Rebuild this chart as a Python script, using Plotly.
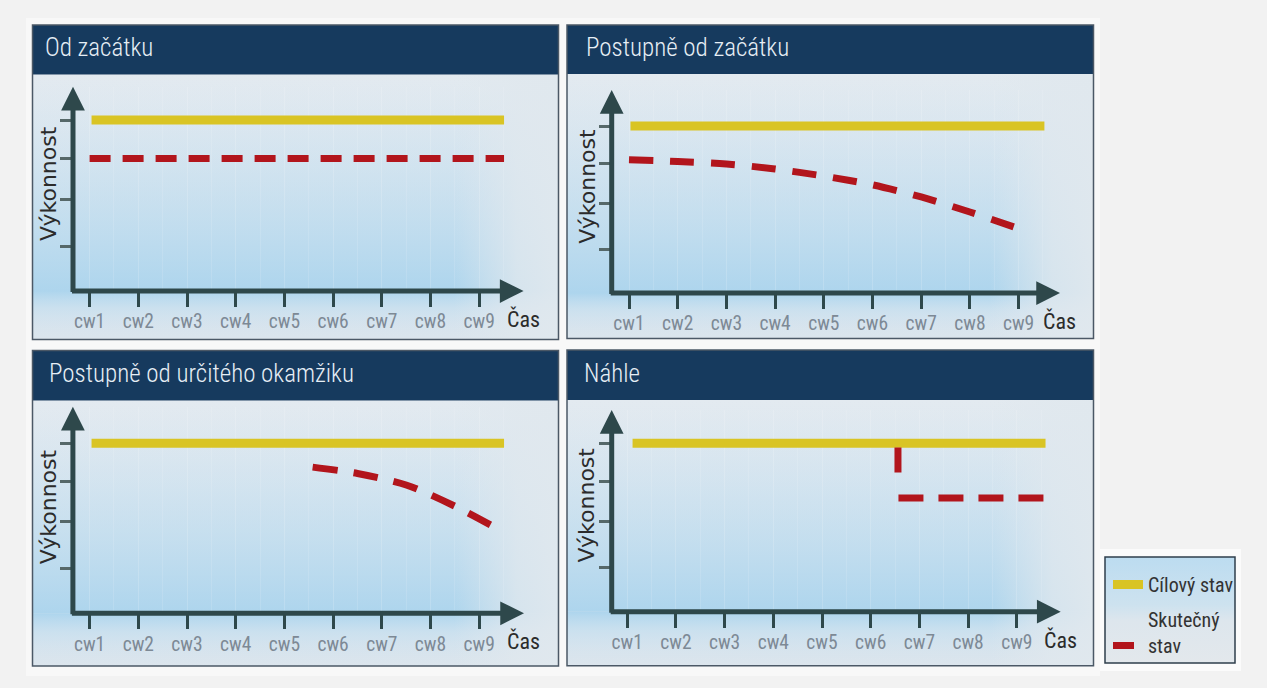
import plotly.graph_objects as go

# ---------------- data ----------------
categories = ["cw1", "cw2", "cw3", "cw4", "cw5", "cw6", "cw7", "cw8", "cw9"]
category_pos = [1, 2, 3, 4, 5, 6, 7, 8, 9]
y_tick_vals = [1.05, 2.15, 3.1, 4.0]

panel_titles = ["Od začátku", "Postupně od začátku",
                "Postupně od určitého okamžiku", "Náhle"]
legend_names = ["Cílový stav", "Skutečný<br>stav"]
y_title = "Výkonnost"
x_title = "Čas"

# Od začátku
p1_target_x = [1.04, 9.51]
p1_target_y = [4.0, 4.0]
p1_actual_x = [1.0, 9.51]
p1_actual_y = [3.1, 3.1]
# Postupně od začátku
p2_target_x = [1.03, 9.53]
p2_target_y = [4.0, 4.0]
p2_actual_x = [1, 2, 3, 4, 5, 6, 7, 8, 9.13]
p2_actual_y = [3.19, 3.15, 3.09, 2.97, 2.80, 2.59, 2.30, 1.94, 1.49]
# Postupně od určitého okamžiku
p3_target_x = [1.04, 9.51]
p3_target_y = [4.0, 4.0]
p3_actual_x = [5.58, 6.5, 7.5, 8.5, 9.39]
p3_actual_y = [3.44, 3.29, 3.02, 2.52, 1.98]
# Náhle
p4_target_x = [1.11, 9.59]
p4_target_y = [4.0, 4.0]
p4_actual_x = [6.56, 6.56, 9.59]
p4_actual_y = [3.9, 2.7, 2.7]

# ---------------- layout geometry / styles ----------------
W, H = 1267, 688
CW = 48.7  # px per category step
NARROW = "Liberation Sans Narrow, Arial Narrow, Roboto Condensed, Liberation Sans, sans-serif"
WIDE = "DejaVu Sans, Verdana, sans-serif"
AXC = "#2e484b"
YELLOW = "#d9c424"
RED = "#b2151c"
NAVY = "#163a5e"

panels = [
    dict(L=32.5, R=558.5, T=25, HB=74.5, B=339.5, ax=73.0, ay=291.0, cw1=89.6,
         tipx=523.6, tipy=86.7, unit=42.75, tx=43,
         tx_=p1_target_x, ty_=p1_target_y, axx=p1_actual_x, axy=p1_actual_y,
         dash="21px,12px", shape="linear"),
    dict(L=567.0, R=1093.5, T=25, HB=74.0, B=338.5, ax=611.7, ay=293.0, cw1=629.0,
         tipx=1060.0, tipy=90.0, unit=41.75, tx=584,
         tx_=p2_target_x, ty_=p2_target_y, axx=p2_actual_x, axy=p2_actual_y,
         dash="24px,17px", shape="spline"),
    dict(L=32.5, R=558.5, T=350.5, HB=400.5, B=666.0, ax=72.9, ay=613.3, cw1=89.6,
         tipx=524.0, tipy=406.7, unit=42.5, tx=47,
         tx_=p3_target_x, ty_=p3_target_y, axx=p3_actual_x, axy=p3_actual_y,
         dash="25px,16px", shape="spline"),
    dict(L=567.0, R=1093.5, T=350.0, HB=400.0, B=665.7, ax=611.7, ay=611.7, cw1=627.2,
         tipx=1060.7, tipy=410.0, unit=42.1, tx=582,
         tx_=p4_target_x, ty_=p4_target_y, axx=p4_actual_x, axy=p4_actual_y,
         dash="25px,26px,25px,15px,25px,15px,25px,15px,25px,15px", shape="linear"),
]

fig = go.Figure()


def grad_rect(x0, y0, x1, y1, cs, orient="vertical"):
    if orient == "vertical":
        start, stop = y0, y1
    else:
        start, stop = x0, x1
    fig.add_trace(go.Scatter(
        x=[x0, x1, x1, x0, x0], y=[y0, y0, y1, y1, y0], mode="none", fill="toself",
        fillgradient=dict(type=orient, colorscale=cs, start=start, stop=stop),
        xaxis="x", yaxis="y", hoverinfo="skip", showlegend=False))


# page card
grad_rect(26, 18, 1100, 676, [[0, "#f8f8f8"], [1, "#f8f8f8"]])

for p in panels:
    L, R, HB, B = p["L"], p["R"], p["HB"], p["B"]
    # base body
    grad_rect(L, HB, R, B, [[0, "#e3eaf0"], [1, "#dbe5ed"]])
    # blue glow over the plot region
    grad_rect(L, HB, R, p["ay"],
              [[0, "rgba(200,225,242,0.0)"], [0.45, "rgba(185,219,240,0.42)"],
               [1, "rgba(165,210,237,0.85)"]])
    # below x axis
    grad_rect(L, p["ay"], R, B,
              [[0, "rgba(165,210,237,0.85)"], [0.35, "rgba(185,219,240,0.5)"],
               [1, "rgba(220,229,237,0.2)"]])
    # right fade
    grad_rect(p["tipx"] - 70, HB, R, B,
              [[0, "rgba(224,232,238,0.0)"], [0.6, "rgba(224,232,238,0.8)"],
               [1, "rgba(224,232,238,0.95)"]], orient="horizontal")
    # header
    grad_rect(L, p["T"], R, HB, [[0, NAVY], [1, NAVY]])

# legend box
grad_rect(1100, 549, 1241, 671, [[0, "#fbfbfb"], [1, "#fbfbfb"]])
grad_rect(1105, 557, 1235, 663,
          [[0, "#bcdcf0"], [0.45, "#cde2ef"], [0.6, "#dde6ed"], [1, "#e3e8ec"]])

shapes = []
for p in panels:
    shapes.append(dict(type="rect", xref="paper", yref="paper", layer="above",
                       x0=p["L"] / W, x1=p["R"] / W, y0=1 - p["B"] / H, y1=1 - p["T"] / H,
                       line=dict(color="#4b5866", width=1.5), fillcolor="rgba(0,0,0,0)"))
shapes.append(dict(type="rect", xref="paper", yref="paper", layer="above",
                   x0=1105 / W, x1=1235 / W, y0=1 - 663 / H, y1=1 - 557 / H,
                   line=dict(color="#2f3f4c", width=1.5), fillcolor="rgba(0,0,0,0)"))

annotations = []
layout_axes = {}
for i, p in enumerate(panels):
    n = i + 2
    xa, ya = f"x{n}", f"y{n}"
    xr = [1 - (p["cw1"] - p["ax"]) / CW, 1 + (p["tipx"] - p["cw1"]) / CW]
    yr = [0, (p["ay"] - p["tipy"]) / p["unit"]]
    layout_axes[f"xaxis{n}"] = dict(
        domain=[p["ax"] / W, p["tipx"] / W], range=xr, anchor=ya,
        tickmode="array", tickvals=category_pos, ticktext=categories,
        ticks="outside", ticklen=15, tickwidth=3, tickcolor=AXC,
        ticklabelstandoff=-2,
        tickfont=dict(family=NARROW, size=19.5, color="#7d8995", weight=400),
        showline=False, zeroline=False, showgrid=True,
        gridcolor="rgba(255,255,255,0.16)", gridwidth=1,
        minor=dict(tickvals=[c + 0.5 for c in category_pos], showgrid=True,
                   gridcolor="rgba(255,255,255,0.12)", ticks=""),
        fixedrange=True)
    layout_axes[f"yaxis{n}"] = dict(
        domain=[1 - p["ay"] / H, 1 - p["tipy"] / H], range=yr, anchor=xa,
        tickmode="array", tickvals=y_tick_vals, ticks="outside", ticklen=12,
        tickwidth=3, tickcolor="#566869", showticklabels=False,
        showline=False, zeroline=False, showgrid=False, fixedrange=True)

    # target line
    fig.add_trace(go.Scatter(
        x=p["tx_"], y=p["ty_"], mode="lines", xaxis=xa, yaxis=ya,
        line=dict(color=YELLOW, width=9), name=legend_names[0],
        legendgroup="target", showlegend=(i == 0), hoverinfo="skip"))
    # actual line
    fig.add_trace(go.Scatter(
        x=p["axx"], y=p["axy"], mode="lines", xaxis=xa, yaxis=ya,
        line=dict(color=RED, width=7, dash=p["dash"], shape=p["shape"],
                  smoothing=0.8),
        name=legend_names[1], legendgroup="actual", showlegend=(i == 0),
        hoverinfo="skip"))

    w = p["tipx"] - p["ax"]
    h = p["ay"] - p["tipy"]
    # x axis arrow
    annotations.append(dict(xref=f"{xa} domain", yref=f"{ya} domain", x=1, y=0,
                            ax=-(w + 2.5), ay=0, axref="pixel", ayref="pixel",
                            text="", showarrow=True, arrowhead=2, arrowsize=0.95,
                            arrowwidth=5, arrowcolor=AXC, standoff=0))
    # y axis arrow
    annotations.append(dict(xref=f"{xa} domain", yref=f"{ya} domain", x=0, y=1,
                            ax=0, ay=h + 2.5, axref="pixel", ayref="pixel",
                            text="", showarrow=True, arrowhead=2, arrowsize=0.95,
                            arrowwidth=5, arrowcolor=AXC, standoff=0))
    # panel title
    annotations.append(dict(xref="paper", yref="paper", x=p["tx"] / W,
                            y=1 - ((p["T"] + p["HB"]) / 2 - 2) / H,
                            xanchor="left", yanchor="middle", showarrow=False,
                            text=panel_titles[i],
                            font=dict(family=NARROW, size=25, color="#e6eef5",
                                      weight=300)))
    # axis titles
    annotations.append(dict(xref="paper", yref="paper", x=(p["ax"] - 25) / W,
                            y=1 - (p["ay"] - 107) / H, xanchor="center",
                            yanchor="middle", textangle=-90, showarrow=False,
                            text=y_title,
                            font=dict(family=WIDE, size=22, color="#2b2b2b")))
    annotations.append(dict(xref="paper", yref="paper", x=(p["tipx"] - 19) / W,
                            y=1 - (p["ay"] + 28) / H, xanchor="left",
                            yanchor="middle", showarrow=False, text=x_title,
                            font=dict(family=NARROW, size=22, color="#2b2b2b")))

fig.update_layout(
    width=W, height=H, margin=dict(l=0, r=0, t=0, b=0),
    paper_bgcolor="#f2f2f2", plot_bgcolor="rgba(0,0,0,0)",
    xaxis=dict(domain=[0, 1], range=[0, W], visible=False, fixedrange=True),
    yaxis=dict(domain=[0, 1], range=[H, 0], visible=False, fixedrange=True),
    shapes=shapes, annotations=annotations,
    showlegend=True,
    legend=dict(x=1108 / W, y=1 - 565 / H, xanchor="left", yanchor="top",
                bgcolor="rgba(0,0,0,0)", borderwidth=0, valign="bottom",
                traceorder="grouped", tracegroupgap=6, itemwidth=30,
                font=dict(family=NARROW, size=20, color="#333333")),
    **layout_axes,
)

fig.write_html("out.html", config={"displayModeBar": False, "staticPlot": True},
               post_script="document.body.style.margin='0';")
